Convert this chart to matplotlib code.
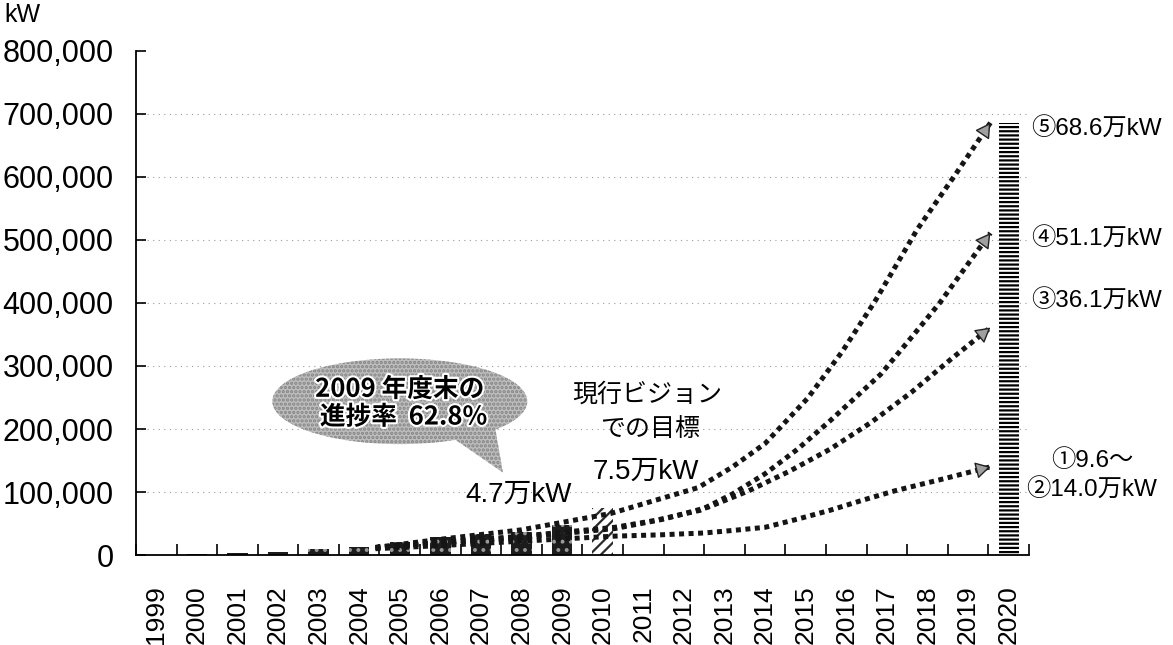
import matplotlib
matplotlib.use('Agg')
import matplotlib.pyplot as plt
import matplotlib.patheffects as pe
from matplotlib.patches import Ellipse, Polygon
from matplotlib.ticker import FuncFormatter, FixedLocator

plt.rcParams['font.family'] = ['Liberation Sans', 'Noto Sans CJK JP', 'DejaVu Sans']
plt.rcParams['hatch.linewidth'] = 1.6

# installed capacity (kW), year-end
years = list(range(1999, 2021))
actual_years = [2000, 2001, 2002, 2003, 2004, 2005, 2006, 2007, 2008, 2009]
actual_kw = [1500, 4000, 4500, 9500, 13500, 20000, 28000, 33000, 37000, 47100]
target_year = 2010
target_kw = 75000
goal_year = 2020
goal_kw = 686000

# projection paths for the 2020 cases
case5_x = [2004.4, 2006, 2008, 2010.2, 2011.3, 2012.35, 2013.2, 2014.0, 2015.05, 2015.9,
           2016.7, 2017.75, 2018.7, 2019.55]
case5_y = [12000, 25000, 40000, 66000, 87000, 107000, 140000, 177000, 249000, 323000,
           402000, 517000, 605000, 686000]
case4_x = [2004.4, 2006, 2008, 2010.3, 2011.3, 2012.4, 2013.2, 2014.0, 2014.8, 2015.6,
           2016.85, 2017.6, 2018.3, 2019.55]
case4_y = [12000, 20000, 30000, 44000, 55000, 71000, 97000, 129000, 168000, 213000,
           287000, 345000, 400000, 511000]
case3_x = [2004.4, 2006, 2008, 2010.3, 2011.5, 2012.6, 2013.6, 2014.6, 2015.6, 2016.6,
           2017.6, 2018.6, 2019.55]
case3_y = [12000, 19000, 28000, 42000, 57000, 76000, 102000, 133000, 168000, 210000,
           258000, 312000, 361000]
case12_x = [2004.4, 2006, 2008, 2010.3, 2011.4, 2012.5, 2013.2, 2014.0, 2014.8, 2015.6,
            2016.4, 2017.2, 2018.4, 2019.55]
case12_y = [10000, 15000, 22000, 30000, 32000, 35000, 39000, 44000, 57000, 71000,
            87000, 102000, 121000, 140000]

fig = plt.figure(figsize=(11.73, 6.45), dpi=100)
ax = fig.add_axes([0.1159, 0.1395, 0.7613, 0.7815])

# bars
ax.bar(actual_years, actual_kw, width=0.5, color='#1c1c1c', lw=0, zorder=2)
ax.bar(actual_years, actual_kw, width=0.5, facecolor='none', edgecolor='#9a9a9a',
       hatch='..', lw=0, zorder=2)
ax.bar(target_year, target_kw, width=0.52, facecolor='white', edgecolor='#2a2a2a',
       hatch='///', lw=0, zorder=2)
ax.bar(goal_year, goal_kw, width=0.5, facecolor='white', edgecolor='black',
       hatch='----', lw=0, zorder=2)

# dotted projection arrows
for xs, ys in [(case5_x, case5_y), (case4_x, case4_y), (case3_x, case3_y), (case12_x, case12_y)]:
    ax.plot(xs, ys, color='#151515', lw=3.6, linestyle=(0, (1, 0.9)),
            dash_capstyle='butt', zorder=3)
    x0 = xs[-1] - 0.15 * (xs[-1] - xs[-2])
    y0 = ys[-1] - 0.15 * (ys[-1] - ys[-2])
    ax.annotate('', xy=(xs[-1], ys[-1]), xytext=(x0, y0),
                arrowprops=dict(arrowstyle='-|>,head_length=0.7,head_width=0.4',
                                mutation_scale=13, fc='#a0a0a0', ec='#222', lw=1.0,
                                shrinkA=0, shrinkB=0),
                zorder=4)

# speech bubble
tail = Polygon([(2006.23, 189000), (2007.34, 205000), (2007.54, 131000)], closed=True,
               fc='#bdbdbd', ec='#858585', hatch='....', lw=0, zorder=5)
ax.add_patch(tail)
bubble = Ellipse((2005.0, 244000), 6.28, 136000, fc='#bdbdbd', ec='#858585',
                 hatch='....', lw=0, zorder=5)
ax.add_patch(bubble)
halo = [pe.withStroke(linewidth=3, foreground='white')]
ax.text(2005.0, 263000, '2009 年度末の', ha='center', va='center', fontsize=18.5,
        fontweight='bold', family=['Noto Sans CJK JP'], path_effects=halo, zorder=6)
ax.text(2005.1, 219000, '進捗率  62.8%', ha='center', va='center', fontsize=18.5,
        fontweight='bold', family=['Noto Sans CJK JP'], path_effects=halo, zorder=6)

ax.text(2007.93, 95000, '4.7万kW', ha='center', va='center', fontsize=20, zorder=6)
ax.text(2011.06, 132000, '7.5万kW', ha='center', va='center', fontsize=20, zorder=6)
ax.text(2011.1, 255000, '現行ビジョン', ha='center', va='center', fontsize=18,
        family=['Noto Sans CJK JP'], zorder=6)
ax.text(2011.16, 200000, 'での目標', ha='center', va='center', fontsize=18,
        family=['Noto Sans CJK JP'], zorder=6)

# case labels at the right
for label, y in [('⑤68.6万kW', 675000), ('④51.1万kW', 501000), ('③36.1万kW', 402000)]:
    ax.text(2020.55, y, label, ha='left', va='center', fontsize=17.5, clip_on=False)
ax.text(2022.05, 150000, '①9.6～', ha='center', va='center', fontsize=17.5,
        clip_on=False)
ax.text(2022.05, 102000, '②14.0万kW', ha='center', va='center', fontsize=17.5,
        clip_on=False)

# axes
ax.set_xlim(1998.5, 2020.5)
ax.set_ylim(0, 800000)
ax.set_xticks(years)
ax.set_xticklabels([str(y) for y in years], rotation=90, fontsize=19)
ax.xaxis.set_minor_locator(FixedLocator([y + 0.5 for y in range(1998, 2021)]))
ax.tick_params(axis='x', which='major', length=0, pad=22)
ax.tick_params(axis='x', which='minor', direction='in', length=8, width=1.2, color='black')
ax.set_yticks(range(0, 800001, 100000))
ax.yaxis.set_major_formatter(FuncFormatter(lambda v, p: f'{int(v):,}'))
ax.tick_params(axis='y', direction='in', length=7, width=1.2, labelsize=22, pad=16)
for v in range(100000, 800000, 100000):
    ax.axhline(v, color='#9a9a9a', lw=0.8, linestyle=(0, (1, 4)), zorder=1)
ax.spines['top'].set_visible(False)
ax.spines['right'].set_visible(False)
ax.spines['left'].set_linewidth(1.3)
ax.spines['bottom'].set_linewidth(1.3)

fig.text(0.004, 0.995, 'kW', ha='left', va='top', fontsize=18)

fig.savefig('out.png', dpi=100)
